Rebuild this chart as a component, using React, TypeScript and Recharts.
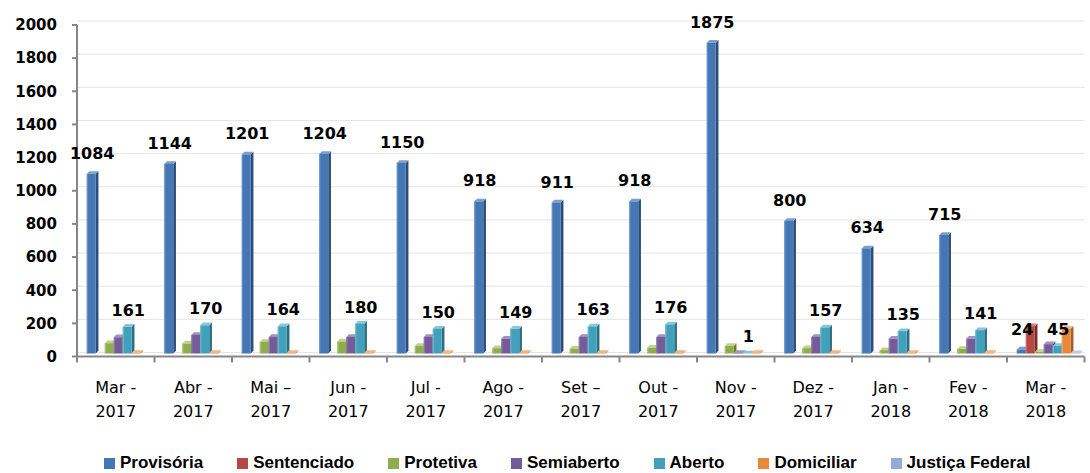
import React from 'react';
import { BarChart, Bar, XAxis, YAxis, CartesianGrid, LabelList, Legend } from 'recharts';

const monthLine1 = ['Mar -', 'Abr -', 'Mai –', 'Jun -', 'Jul -', 'Ago -', 'Set –', 'Out -', 'Nov -', 'Dez -', 'Jan -', 'Fev -', 'Mar -'];
const monthLine2 = ['2017', '2017', '2017', '2017', '2017', '2017', '2017', '2017', '2017', '2017', '2018', '2018', '2018'];
const provisoria = [1084, 1144, 1201, 1204, 1150, 918, 911, 918, 1875, 800, 634, 715, 24];
const sentenciado = [0, 0, 0, 0, 0, 0, 0, 0, 0, 0, 0, 0, 165];
const protetiva = [62, 60, 70, 72, 45, 32, 30, 35, 45, 32, 20, 28, 10];
const semiaberto = [98, 112, 100, 100, 100, 90, 100, 100, 3, 100, 90, 90, 56];
const aberto = [161, 170, 164, 180, 150, 149, 163, 176, 1, 157, 135, 141, 45];
const domiciliar = [4, 4, 4, 4, 4, 4, 4, 4, 3, 4, 4, 4, 150];
const justicaFederal = [0, 0, 0, 0, 0, 0, 0, 0, 0, 0, 0, 0, 2];
const yTicks = [0, 200, 400, 600, 800, 1000, 1200, 1400, 1600, 1800, 2000];

const data = monthLine1.map((m, i) => ({
  month: `${m} ${monthLine2[i]}`,
  provisoria: provisoria[i],
  sentenciado: sentenciado[i],
  protetiva: protetiva[i],
  semiaberto: semiaberto[i],
  aberto: aberto[i],
  domiciliar: domiciliar[i],
  justicaFederal: justicaFederal[i],
}));

const series = [
  { key: 'provisoria', name: 'Provisória', color: '#4677b5', side: '#2b4d7a', top: '#7aa0d0' },
  { key: 'sentenciado', name: 'Sentenciado', color: '#b34845', side: '#7d2a28', top: '#d88280' },
  { key: 'protetiva', name: 'Protetiva', color: '#8fad4f', side: '#647c32', top: '#bcd38a' },
  { key: 'semiaberto', name: 'Semiaberto', color: '#755b98', side: '#513c6f', top: '#a590c2' },
  { key: 'aberto', name: 'Aberto', color: '#42a0ba', side: '#2a7084', top: '#86c8da' },
  { key: 'domiciliar', name: 'Domiciliar', color: '#e8883b', side: '#a85e22', top: '#f5b47c' },
  { key: 'justicaFederal', name: 'Justiça Federal', color: '#93acd3', side: '#6a84ab', top: '#bccce6' },
];

const W = 1090;
const H = 473;
const MARGIN = { top: 25, right: 5.5, left: 0, bottom: 56.5 };
const Y_AXIS_W = 77;
const X_AXIS_H = 60;
const PLOT_BOTTOM = H - MARGIN.bottom - X_AXIS_H;
const BAND = (W - MARGIN.left - MARGIN.right - Y_AXIS_W) / monthLine1.length;
const SHIFT_X = 2.5;
const SHIFT_Y = -3;
const DEPTH = 2.7;
const WALL = 4;

const make3D = (color: string, side: string, top: string) => (props: any) => {
  const { x, y: y0, width, height } = props;
  if (!(height > 0.01)) return <g />;
  const sx = x + SHIFT_X;
  const y = y0 + SHIFT_Y;
  const w = width;
  const d = DEPTH;
  const h = height;
  return (
    <g>
      <polygon points={`${sx + w},${y} ${sx + w + d},${y - d} ${sx + w + d},${y + h - d} ${sx + w},${y + h}`} fill={side} />
      <polygon points={`${sx},${y} ${sx + d},${y - d} ${sx + w + d},${y - d} ${sx + w},${y}`} fill={top} />
      <rect x={sx} y={y} width={w} height={h} fill={color} />
      <rect x={sx} y={y} width={1.2} height={h} fill={top} opacity={0.6} />
    </g>
  );
};

const makeLabel = (dy: number) => (props: any) => {
  const { x, y, width, value } = props;
  return (
    <text x={x + SHIFT_X + width / 2 + 1} y={y - dy} textAnchor="middle" fontFamily="DejaVu Sans" fontWeight="bold" fontSize={16} fill="#000">
      {value}
    </text>
  );
};

const XTick = (props: any) => {
  const { x, index } = props;
  const yb = PLOT_BOTTOM;
  return (
    <g>
      <line x1={x - BAND / 2} y1={yb} x2={x - BAND / 2} y2={yb + 6} stroke="#868686" strokeWidth={2} />
      {index === monthLine1.length - 1 && (
        <line x1={x + BAND / 2} y1={yb} x2={x + BAND / 2} y2={yb + 6} stroke="#868686" strokeWidth={2} />
      )}
      <text x={x} y={yb + 36} textAnchor="middle" fontFamily="DejaVu Sans" fontSize={16} fill="#000">
        {monthLine1[index]}
      </text>
      <text x={x} y={yb + 60} textAnchor="middle" fontFamily="DejaVu Sans" fontSize={16} fill="#000">
        {monthLine2[index]}
      </text>
    </g>
  );
};

const gridGen = ({ offset }: any) =>
  yTicks.map((t) => offset.top + offset.height * (1 - t / yTicks[yTicks.length - 1]) - WALL);

const renderLegend = () => (
  <div style={{ display: 'flex', alignItems: 'center', gap: 34, paddingLeft: 104, height: 22 }}>
    {series.map((s) => (
      <div key={s.key} style={{ display: 'flex', alignItems: 'center' }}>
        <div style={{ width: 11, height: 11, background: s.color, marginRight: 5 }} />
        <span style={{ fontFamily: 'Liberation Sans', fontWeight: 'bold', fontSize: 17, color: '#000', lineHeight: '22px' }}>{s.name}</span>
      </div>
    ))}
  </div>
);

export default function App() {
  return (
    <div style={{ position: 'absolute', left: 0, top: 0, width: W, height: H, background: '#fff' }}>
      <BarChart width={W} height={H} data={data} margin={MARGIN} barCategoryGap="9.35%" barGap={0}>
        <CartesianGrid vertical={false} stroke="#e4e4e4" horizontalCoordinatesGenerator={gridGen} />
        <XAxis dataKey="month" height={X_AXIS_H} interval={0} tickLine={false} axisLine={{ stroke: '#868686', strokeWidth: 2 }} tick={<XTick />} />
        <YAxis
          width={Y_AXIS_W}
          domain={[0, 2000]}
          ticks={yTicks}
          interval={0}
          tickSize={5}
          tickMargin={15}
          axisLine={{ stroke: '#868686', strokeWidth: 2 }}
          tickLine={{ stroke: '#868686', strokeWidth: 2 }}
          tick={{ fontFamily: 'DejaVu Sans', fontWeight: 'bold', fontSize: 15, fill: '#000' }}
        />
        <Legend layout="horizontal" verticalAlign="middle" align="center" content={renderLegend} wrapperStyle={{ top: 452, left: 0, width: W }} />
        {series.map((s) => (
          <Bar key={s.key} dataKey={s.key} name={s.name} fill={s.color} isAnimationActive={false} shape={make3D(s.color, s.side, s.top)}>
            {s.key === 'provisoria' && <LabelList dataKey={s.key} content={makeLabel(18)} />}
            {s.key === 'aberto' && <LabelList dataKey={s.key} content={makeLabel(14)} />}
          </Bar>
        ))}
      </BarChart>
    </div>
  );
}
